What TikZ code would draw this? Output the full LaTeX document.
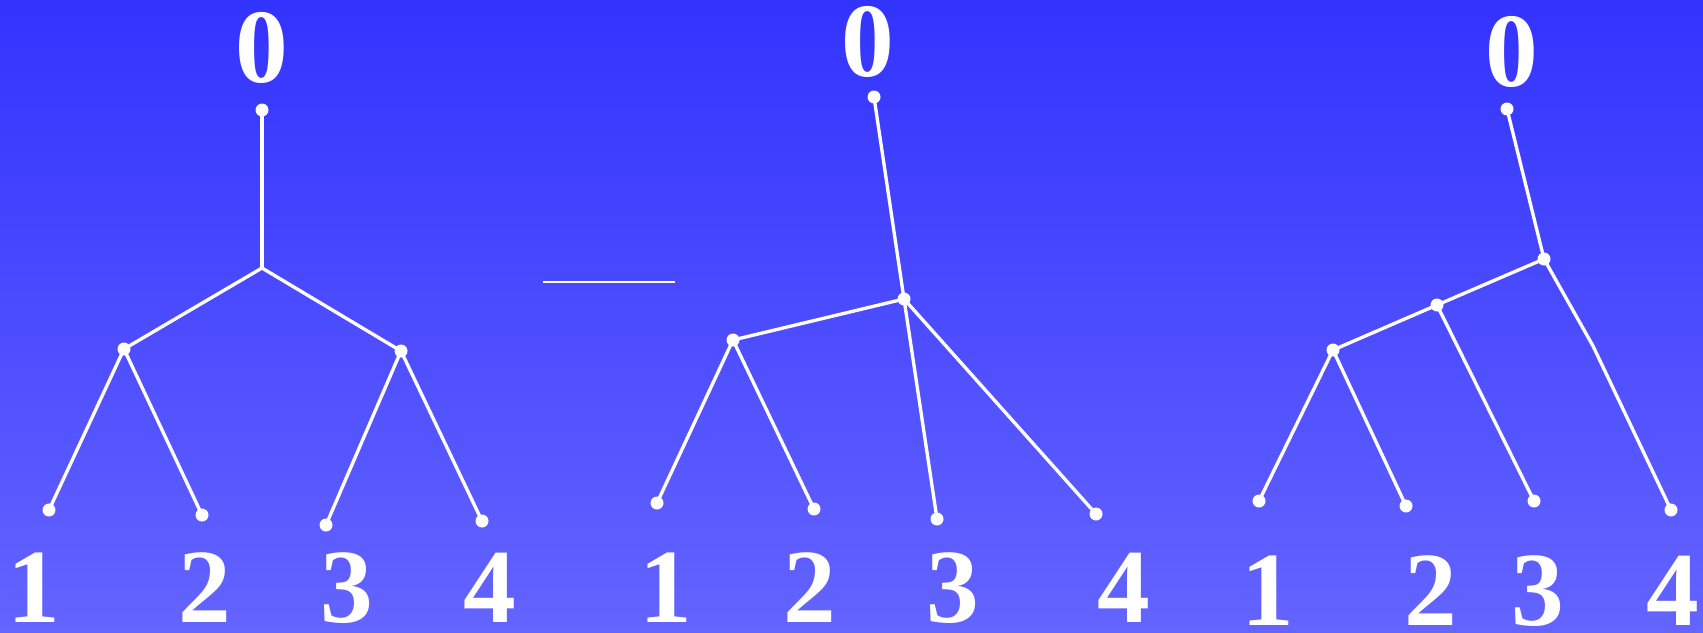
\documentclass[tikz,border=0pt]{standalone}
\usepackage{fontspec}
\setmainfont{Liberation Serif}
\definecolor{bgtop}{RGB}{51,51,255}
\definecolor{bgbot}{RGB}{100,100,255}
\begin{document}
\begin{tikzpicture}[x=0.02cm,y=-0.02cm,
 dot/.style={circle,fill=white,inner sep=0pt,minimum size=0.26cm},
 lbl/.style={text=white,inner sep=0pt,font=\fontsize{60}{60}\selectfont\bfseries},
 branch/.style={draw=white,line width=1.9pt,line cap=round,line join=round}]
\shade[top color=bgtop,bottom color=bgbot] (0,0) rectangle (1703,632);
\useasboundingbox (0,0) rectangle (1703,632);
% first tree
\node[lbl] (top1) at (262,48) {0};
\node[dot] (root1) at (262,110) {};
\coordinate (fork1) at (262,268);
\node[dot] (left1) at (124,349) {};
\node[dot] (right1) at (401,351) {};
\node[dot] (leafA1) at (49,510) {};
\node[dot] (leafB1) at (202,515) {};
\node[dot] (leafC1) at (326,525) {};
\node[dot] (leafD1) at (482,521) {};
\draw[branch] (root1.center)--(fork1);
\draw[branch] (left1.center)--(fork1)--(right1.center);
\draw[branch] (leafA1.center)--(left1.center)--(leafB1.center);
\draw[branch] (leafC1.center)--(right1.center)--(leafD1.center);
\node[lbl] (one1) at (34,588) {1};
\node[lbl] (two1) at (205,588) {2};
\node[lbl] (three1) at (347,588) {3};
\node[lbl] (four1) at (490,588) {4};
% dash between the trees
\coordinate (dashL) at (543,282);
\coordinate (dashR) at (675,282);
\draw[white,line width=0.7pt] (dashL)--(dashR);
% second tree
\node[lbl] (top2) at (868,42) {0};
\node[dot] (root2) at (874,97) {};
\node[dot] (hub2) at (904,299) {};
\node[dot] (left2) at (733,340) {};
\node[dot] (leafA2) at (657,503) {};
\node[dot] (leafB2) at (814,509) {};
\node[dot] (leafC2) at (937,519) {};
\node[dot] (leafD2) at (1096,514) {};
\draw[branch] (root2.center)--(hub2.center)--(left2.center);
\draw[branch] (leafA2.center)--(left2.center)--(leafB2.center);
\draw[branch] (hub2.center)--(leafC2.center);
\draw[branch] (hub2.center)--(leafD2.center);
\node[lbl] (one2) at (666,588) {1};
\node[lbl] (two2) at (810,588) {2};
\node[lbl] (three2) at (953,588) {3};
\node[lbl] (four2) at (1124,588) {4};
% third tree
\node[lbl] (top3) at (1512,52) {0};
\node[dot] (root3) at (1507,109) {};
\node[dot] (upper3) at (1544,259) {};
\node[dot] (mid3) at (1437,305) {};
\node[dot] (low3) at (1333,350) {};
\coordinate (bend3) at (1593,346);
\node[dot] (leafA3) at (1259,501) {};
\node[dot] (leafB3) at (1406,506) {};
\node[dot] (leafC3) at (1534,501) {};
\node[dot] (leafD3) at (1671,510) {};
\draw[branch] (root3.center)--(upper3.center)--(mid3.center)--(low3.center);
\draw[branch] (leafA3.center)--(low3.center)--(leafB3.center);
\draw[branch] (mid3.center)--(leafC3.center);
\draw[branch] (upper3.center)--(bend3)--(leafD3.center);
\node[lbl] (one3) at (1268,591) {1};
\node[lbl] (two3) at (1431,591) {2};
\node[lbl] (three3) at (1538,591) {3};
\node[lbl] (four3) at (1673,591) {4};
\end{tikzpicture}
\end{document}
